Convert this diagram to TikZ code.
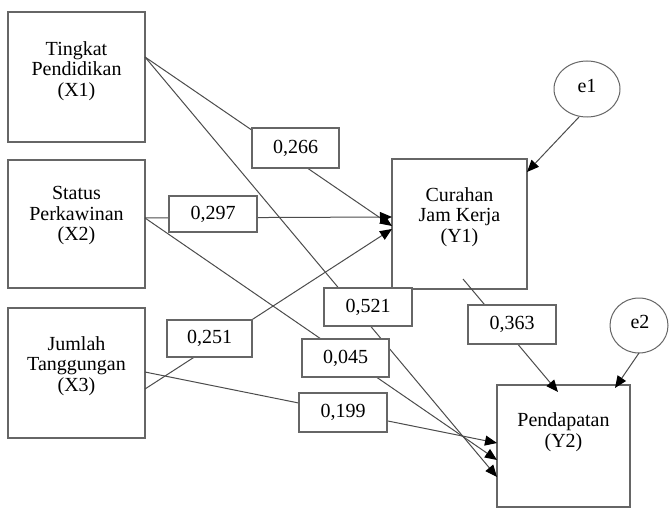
\documentclass[tikz,border=0pt]{standalone}
\usepackage{fontspec}
\setmainfont{LiberationSerif}[Extension=.ttf,UprightFont=*-Regular,BoldFont=*-Bold]
\usetikzlibrary{arrows.meta,shapes.geometric}
\begin{document}
\begin{tikzpicture}[x=1pt,y=-1pt,
  every node/.style={inner sep=0pt,outer sep=0pt,text=black,font=\fontsize{20}{20.5}\selectfont},
  varbox/.style={draw=black!60,line width=1.1pt,rectangle},
  vartext/.style={align=center},
  coefbox/.style={draw=black!60,line width=1.1pt,fill=white,minimum width=87pt,minimum height=38pt},
  errnode/.style={draw=black!60,line width=1pt,ellipse},
  conn/.style={draw=black!70,line width=1pt,-{Triangle[length=12pt,width=10pt,color=black]}}]
\fill[white] (0,0) rectangle (669,508);
\useasboundingbox (0,0) rectangle (669,508);
% variable boxes
\node[varbox,minimum width=137pt,minimum height=130pt] (X1) at (76.5,77) {};
\node[varbox,minimum width=137pt,minimum height=128pt] (X2) at (76.5,224) {};
\node[varbox,minimum width=137pt,minimum height=130pt] (X3) at (76.5,373) {};
\node[varbox,minimum width=135pt,minimum height=130pt] (Y1) at (459.5,224) {};
\node[varbox,minimum width=133pt,minimum height=122pt] (Y2) at (563.5,446) {};
\node[vartext] (X1t) at (76.5,71) {Tingkat\\Pendidikan\\(X1)};
\node[vartext] (X2t) at (76.5,216) {Status\\Perkawinan\\(X2)};
\node[vartext] (X3t) at (76.5,366) {Jumlah\\Tanggungan\\(X3)};
\node[vartext] (Y1t) at (459.5,217) {Curahan\\Jam Kerja\\(Y1)};
\node[vartext] (Y2t) at (563.5,432) {Pendapatan\\(Y2)};
% error terms
\node[errnode,minimum width=66pt,minimum height=56pt] (e1) at (587,89) {};
\node (e1t) at (587,86) {e1};
\node[errnode,minimum width=58pt,minimum height=55pt] (e2) at (639,325.5) {};
\node (e2t) at (640,322) {e2};
% connectors
\draw[conn] ([yshift=20pt]X1.east) -- ([yshift=-2pt]Y1.west);
\draw[conn] ([yshift=20pt]X1.east) -- ([yshift=-31pt]Y2.west);
\draw[conn] ([yshift=6pt]X2.east) -- ([yshift=7pt]Y1.west);
\draw[conn] ([yshift=6pt]X2.east) -- ([yshift=-14pt]Y2.west);
\draw[conn] ([yshift=-16pt]X3.east) -- ([yshift=-5pt]Y1.west);
\draw[conn] ([yshift=1pt]X3.east) -- ([yshift=3pt]Y2.west);
\draw[conn] ([xshift=3.5pt,yshift=-55pt]Y1.center) -- ([xshift=-5.5pt,yshift=-7pt]Y2.north);
\draw[conn] ([xshift=-8pt]e1.south) -- ([yshift=-13pt]Y1.north east);
\draw[conn] (e2.south) -- ([xshift=-15pt,yshift=-3pt]Y2.north east);
% coefficient labels
\node[coefbox,minimum height=40pt] (c266) at (295.5,148) {0,266};
\node[coefbox,minimum width=88pt,minimum height=36pt] (c297) at (213,214) {0,297};
\node[coefbox,minimum width=85pt,minimum height=37pt] (c251) at (209.5,338.5) {0,251};
\node[coefbox,minimum width=88pt] (c521) at (368,307) {0,521};
\node[coefbox] (c045) at (345.5,358) {0,045};
\node[coefbox,minimum width=88pt,minimum height=39pt] (c199) at (343,412.5) {0,199};
\node[coefbox,minimum width=88pt,minimum height=39pt] (c363) at (512,324.5) {0,363};
\end{tikzpicture}
\end{document}
